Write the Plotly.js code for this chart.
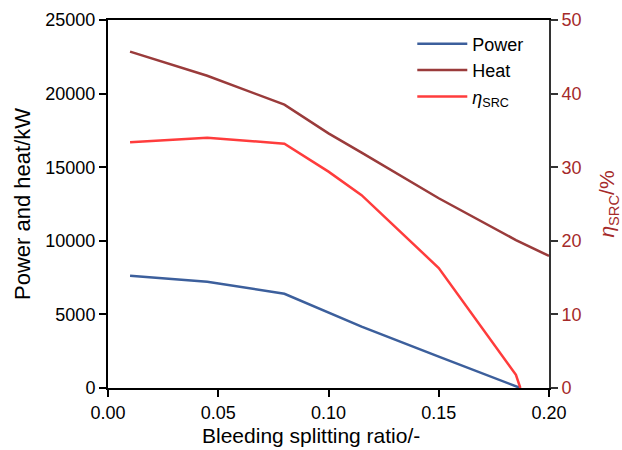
<!DOCTYPE html>
<html>
<head>
<meta charset="utf-8">
<script src="https://cdn.plot.ly/plotly-3.0.1.min.js"></script>
<style>html,body{margin:0;padding:0;background:#fff;}#chart{width:622px;height:450px;}</style>
</head>
<body>
<div id="chart"></div>
<script>
const powerX = [0.01, 0.045, 0.08, 0.10, 0.115, 0.15, 0.187];
const powerY = [7630, 7220, 6400, 5120, 4170, 2130, 0];
const heatX = [0.01, 0.045, 0.08, 0.10, 0.115, 0.15, 0.185, 0.20];
const heatY = [22850, 21210, 19250, 17300, 15990, 12890, 10050, 8970];
const etaX = [0.01, 0.045, 0.08, 0.10, 0.115, 0.15, 0.185, 0.187];
const etaY = [33.4, 34.0, 33.2, 29.4, 26.2, 16.3, 1.8, 0];
const xTicks = [0, 0.05, 0.10, 0.15, 0.20];
const yTicks = [0, 5000, 10000, 15000, 20000, 25000];
const y2Ticks = [0, 10, 20, 30, 40, 50];

const font = 'Liberation Sans, Arial, Helvetica, sans-serif';
const traces = [
  {x: powerX, y: powerY, name: 'Power', type: 'scatter', mode: 'lines', line: {color: '#3c5f9c', width: 2.5}},
  {x: heatX, y: heatY, name: 'Heat', type: 'scatter', mode: 'lines', line: {color: '#9a3b3b', width: 2.5}},
  {x: etaX, y: etaY, name: '<i>η</i><sub>SRC</sub>', type: 'scatter', mode: 'lines', yaxis: 'y2', line: {color: '#ff3c3c', width: 2.5}}
];
const layout = {
  width: 622, height: 450,
  margin: {l: 108, r: 73, t: 20, b: 62},
  paper_bgcolor: '#fff', plot_bgcolor: '#fff',
  font: {family: font, size: 18, color: '#000'},
  showlegend: true,
  legend: {x: 0.69, y: 0.985, xanchor: 'left', yanchor: 'top', bgcolor: 'rgba(0,0,0,0)', font: {size: 18}, itemwidth: 50, tracegroupgap: 0},
  xaxis: {
    range: [0, 0.20], tickvals: xTicks, tickformat: '.2f',
    showgrid: false, zeroline: false, showline: true, linecolor: '#000', linewidth: 2, mirror: true,
    ticks: 'outside', ticklen: 7, tickwidth: 2, tickcolor: '#000',
    tickfont: {size: 18}
  },
  yaxis: {
    range: [0, 25000], tickvals: yTicks, tickformat: 'd',
    showgrid: false, zeroline: false, showline: true, linecolor: '#000', linewidth: 2,
    ticks: 'outside', ticklen: 7, tickwidth: 2, tickcolor: '#000',
    tickfont: {size: 18},
    title: {text: 'Power and heat/kW', font: {size: 22}, standoff: 9}
  },
  yaxis2: {
    range: [0, 50], tickvals: y2Ticks, overlaying: 'y', side: 'right',
    showgrid: false, zeroline: false, showline: true, linecolor: '#333', linewidth: 2,
    ticks: 'outside', ticklen: 7, tickwidth: 2, tickcolor: '#333',
    tickfont: {size: 18, color: '#a52a2a'},
    title: {text: '<i>η</i><sub>SRC</sub>/%', font: {size: 21, color: '#a52a2a'}, standoff: 19}
  },
  annotations: [
    {text: 'Bleeding splitting ratio/-', xref: 'paper', yref: 'paper', x: 0.46, y: -0.13, xanchor: 'center', yanchor: 'middle', showarrow: false, font: {size: 21, color: '#000'}}
  ]
};
Plotly.newPlot('chart', traces, layout, {displayModeBar: false, staticPlot: true});
</script>
</body>
</html>
